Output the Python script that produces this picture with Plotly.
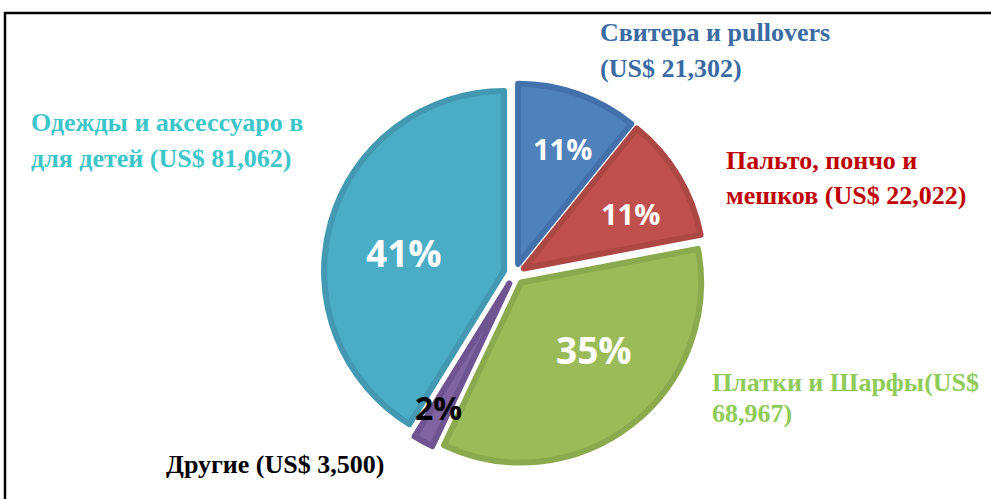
import plotly.graph_objects as go

W, H = 991, 499

categories = ["Свитера и pullovers", "Пальто, пончо и мешков", "Платки и Шарфы",
              "Другие", "Одежды и аксессуаро в для детей"]
values = [21302, 22022, 68967, 3500, 81062]
fill_colors = ["#4F81BD", "#C0504D", "#9BBB59", "#8064A2", "#4BACC6"]
edge_colors = ["#4371AB", "#AD4744", "#8BAA4E", "#6E5591", "#4299B1"]
pct_colors = ["white", "white", "white", "black", "white"]
label_lines = [
    ["Свитера и pullovers", "(US$ 21,302)"],
    ["Пальто, пончо и", "мешков (US$ 22,022)"],
    ["Платки и Шарфы(US$", "68,967)"],
    ["Другие (US$ 3,500)"],
    ["Одежды и аксессуаро в", "для детей (US$ 81,062)"],
]
label_colors = ["#3B6BA3", "#C00000", "#8FCB58", "#000000", "#3CC6C9"]


def px(x):
    return x / W


def py(y):
    return 1 - y / H


fig = go.Figure()
fig.add_trace(go.Pie(
    labels=categories,
    values=values,
    sort=False,
    direction="clockwise",
    rotation=0,
    pull=[0.06] * len(values),
    textinfo="none",
    marker=dict(colors=fill_colors, line=dict(color=edge_colors, width=6)),
    domain=dict(x=[0.3266, 0.7117], y=[0.0685, 0.8333]),
    showlegend=False,
    hoverinfo="label+value+percent",
))

total = sum(values)
pct_pos = [(562, 149), (630, 213), (594, 349), (438, 407), (404, 253)]
pct_size = [29, 29, 37, 32, 37]
annotations = []
for v, (x, y), s, c in zip(values, pct_pos, pct_size, pct_colors):
    annotations.append(dict(
        x=px(x), y=py(y), xref="paper", yref="paper", showarrow=False,
        text=f"{round(100 * v / total)}%", xanchor="center", yanchor="middle",
        font=dict(family="Open Sans", size=s, color=c, weight="bold"),
    ))

label_pos = [(598, [33, 68]), (724, [160, 196]), (710, [382, 413]),
             (164, [464]), (29, [122, 158])]
for lines, (x, ys), c in zip(label_lines, label_pos, label_colors):
    for t, y in zip(lines, ys):
        annotations.append(dict(
            x=px(x), y=py(y), xref="paper", yref="paper", showarrow=False,
            text=t, xanchor="left", yanchor="middle",
            font=dict(family="Liberation Serif", size=26, color=c, weight="bold"),
        ))

fig.update_layout(
    width=W, height=H,
    margin=dict(l=0, r=0, t=0, b=0),
    paper_bgcolor="white",
    plot_bgcolor="white",
    annotations=annotations,
    shapes=[dict(type="rect", xref="paper", yref="paper",
                 x0=px(5), x1=1.2, y0=-0.2, y1=py(13),
                 line=dict(color="black", width=2.5))],
)

fig.write_html("out.html", config={"displayModeBar": False},
               post_script="document.body.style.margin='0';")
